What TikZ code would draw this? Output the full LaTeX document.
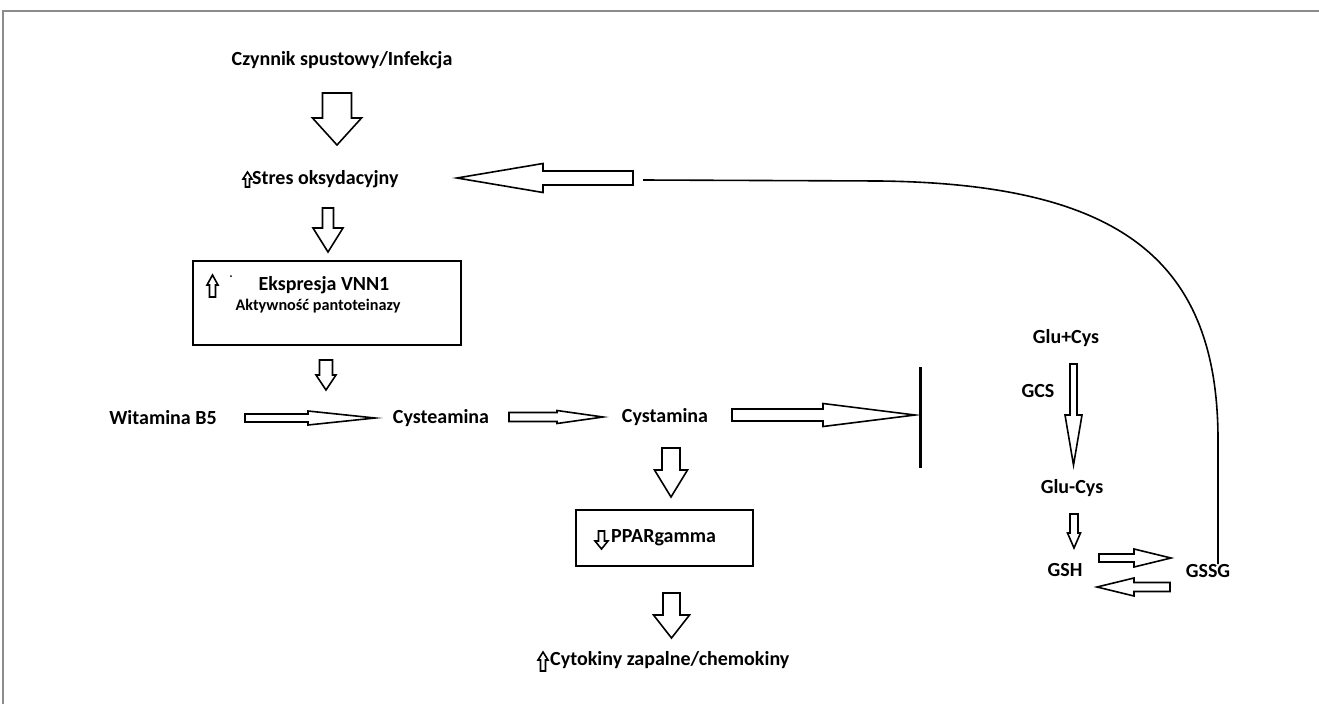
\documentclass[tikz,border=0pt]{standalone}
\usepackage{fontspec}
\setmainfont{Carlito}
\usetikzlibrary{calc}
\tikzset{
  lbl/.style={font=\fontsize{20}{24}\selectfont\bfseries, inner sep=0pt},
  lbls/.style={font=\fontsize{16.2}{19}\selectfont\bfseries, inner sep=0pt},
  blk/.style={draw=black, line width=1.6pt, fill=white, line join=miter},
  boxst/.style={draw=black, line width=1.6pt},
  link/.style={draw=black, line width=1.6pt},
  frame/.style={draw=black!45, line width=1.2pt}
}
% block arrow: #1 start, #2 tip, #3 half shaft, #4 half head, #5 head length
\newcommand\barrow[5]{%
  \path ($(#2)!#5pt!(#1)$) coordinate (bH);
  \draw[blk] ($(#1)!#3pt!90:(#2)$) -- ($(bH)!#3pt!90:(#2)$) -- ($(bH)!#4pt!90:(#2)$)
    -- (#2) -- ($(bH)!#4pt!-90:(#2)$) -- ($(bH)!#3pt!-90:(#2)$) -- ($(#1)!#3pt!-90:(#2)$) -- cycle;}
\begin{document}
\begin{tikzpicture}[x=1pt,y=-1pt]
\useasboundingbox (0,0) rectangle (1319,704);
\fill[white] (0,0) rectangle (1319,704);
\draw[frame] (3,704) -- (3,11) -- (1319,11);

% nodes
\node[lbl] (trig) at (342,60) {Czynnik spustowy/Infekcja};
\node[lbl, anchor=west] (stres) at (252,179) {Stres oksydacyjny};
\node[boxst, minimum width=268pt, minimum height=84pt, inner sep=0pt] (vnn) at (327,303) {};
\node[lbl] (ekspr) at (324,285) {Ekspresja VNN1};
\node[lbls] (aktyw) at (318,306) {Aktywność pantoteinazy};
\node[lbl] (wit) at (163,418) {Witamina B5};
\node[lbl] (cyst) at (441,418) {Cysteamina};
\node[lbl] (cysta) at (665,417) {Cystamina};
\node[boxst, minimum width=177pt, minimum height=56pt, inner sep=0pt] (ppar) at (664.5,538) {};
\node[lbl, anchor=west] (ppartxt) at (611,538) {PPARgamma};
\node[lbl, anchor=west] (cyto) at (550,660) {Cytokiny zapalne/chemokiny};
\node[lbl] (glucys) at (1066,338) {Glu+Cys};
\node[lbl] (gcs) at (1038,391) {GCS};
\node[lbl] (gluc) at (1072,488) {Glu-Cys};
\node[lbl] (gsh) at (1065,570) {GSH};
\node[lbl] (gssg) at (1208,571) {GSSG};
\coordinate (bartop) at (920,367);
\coordinate (barbot) at (920,468);
\draw[line width=3pt] (bartop) -- (barbot);

% small indicator arrows
\coordinate (s1a) at (247.5,187); \coordinate (s1b) at (247.5,172);
\barrow{s1a}{s1b}{2}{4.5}{7}
\coordinate (s2a) at (212.5,297); \coordinate (s2b) at (212.5,275);
\barrow{s2a}{s2b}{3}{5.5}{10}
\fill (231,276) circle (1pt);
\coordinate (s3a) at (601.5,531); \coordinate (s3b) at (601.5,549);
\barrow{s3a}{s3b}{3}{6.5}{8}
\coordinate (s4a) at (543,671); \coordinate (s4b) at (543,652);
\barrow{s4a}{s4b}{2.5}{5}{8}

% connectors (block arrows)
\coordinate (a1s) at (337,93);  \coordinate (a1e) at (337,145);
\barrow{a1s}{a1e}{14.5}{24.5}{27}
\coordinate (a2s) at (328,208); \coordinate (a2e) at (328,252);
\barrow{a2s}{a2e}{5.5}{15}{24}
\coordinate (a3s) at (326,360); \coordinate (a3e) at (326,390);
\barrow{a3s}{a3e}{6.5}{10}{15}
\coordinate (a4s) at (245,418); \coordinate (a4e) at (375,418);
\barrow{a4s}{a4e}{4}{7}{67}
\coordinate (a5s) at (509,417); \coordinate (a5e) at (603,417);
\barrow{a5s}{a5e}{4.5}{6.5}{46}
\coordinate (a6s) at (732,415); \coordinate (a6e) at (915,415);
\barrow{a6s}{a6e}{6}{11.5}{92}
\coordinate (a7s) at (671,448); \coordinate (a7e) at (671,497);
\barrow{a7s}{a7e}{9}{16.5}{27}
\coordinate (a8s) at (671.5,593); \coordinate (a8e) at (671.5,638);
\barrow{a8s}{a8e}{8.5}{18}{23}
\coordinate (a9s) at (633,178); \coordinate (a9e) at (457,178);
\barrow{a9s}{a9e}{7}{14.5}{86}
\coordinate (a10s) at (1073.5,364); \coordinate (a10e) at (1073.5,465);
\barrow{a10s}{a10e}{3.5}{8.5}{50}
\coordinate (a11s) at (1074,514); \coordinate (a11e) at (1074,548);
\barrow{a11s}{a11e}{4}{6.5}{15}
\coordinate (a12s) at (1099,558); \coordinate (a12e) at (1171,558);
\barrow{a12s}{a12e}{4}{9}{37}
\coordinate (a13s) at (1170,587); \coordinate (a13e) at (1097,587);
\barrow{a13s}{a13e}{4.5}{9}{37}

% feedback curve from GSSG
\coordinate (cstart) at (643,180);
\draw[link] (gssg.north -| 1218,0) -- (1218,440) .. controls (1218,260) and (1120,184) .. (880,181) -- (cstart);
\end{tikzpicture}
\end{document}
